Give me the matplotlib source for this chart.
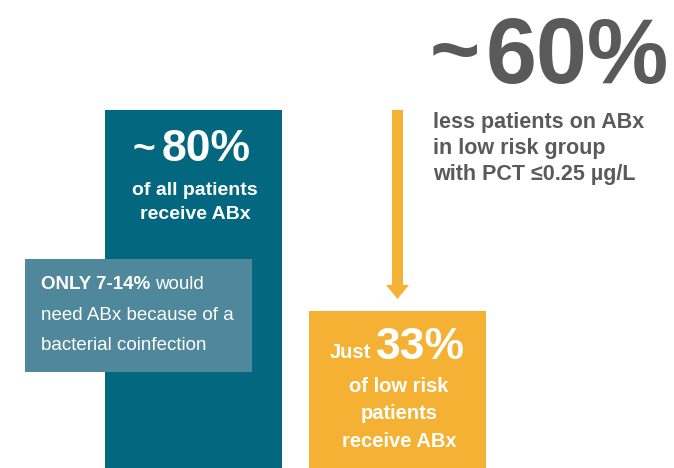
import matplotlib.pyplot as plt
from matplotlib.patches import Rectangle

# values shown in the infographic
groups = ["all patients", "low risk patients"]
abx_share = [80, 33]            # % of patients receiving ABx
coinfection = "7-14%"           # share that really needs ABx
reduction = 60                  # % less patients on ABx with PCT

teal = "#03677f"
orange = "#f5b133"
pale = "#4f879b"
grey = "#5a5a5a"
font = "Liberation Sans"

fig = plt.figure(figsize=(6.74, 4.68), dpi=100)

# bars, y axis in percent
ax = fig.add_axes([0, 0, 1, 1])
ylo = -3.7
ax.set_xlim(0, 674)
ax.set_ylim(ylo, 105.7)
heights = [v - ylo for v in abx_share]
ax.bar([193.5, 397.5], heights, width=177, bottom=ylo, color=[teal, orange])
# arrow from the 80% level down to just above the 33% bar
ax.arrow(397.5, abx_share[0], 0, -(abx_share[0] - abx_share[1] - 2.8),
         width=11, head_width=23, head_length=3.3, length_includes_head=True,
         color=orange, lw=0)
ax.axis("off")

# overlay in pixel coords for the text pieces
ov = fig.add_axes([0, 0, 1, 1])
ov.set_xlim(0, 674)
ov.set_ylim(468, 0)
ov.patch.set_alpha(0)
ov.axis("off")

ov.add_patch(Rectangle((25, 259), 227, 113, color=pale, lw=0))

# teal bar text
ov.text(144, 160, "~", color="white", fontsize=28, fontweight="bold",
        family=font, ha="center", va="baseline")
ov.text(251, 161, "%d%%" % abx_share[0], color="white", fontsize=32,
        fontweight="bold", family=font, ha="right", va="baseline")
ov.text(195, 195, "of all patients", color="white", fontsize=14,
        fontweight="bold", family=font, ha="center", va="baseline")
ov.text(195, 219, "receive ABx", color="white", fontsize=14,
        fontweight="bold", family=font, ha="center", va="baseline")

# pale box text
ov.text(41, 289, "ONLY %s" % coinfection, color="white", fontsize=13.5,
        fontweight="bold", family=font, ha="left", va="baseline")
ov.text(155, 289, "would", color="white", fontsize=13.5, family=font,
        ha="left", va="baseline")
ov.text(41, 320, "need ABx because of a", color="white", fontsize=13.5,
        family=font, ha="left", va="baseline")
ov.text(41, 350, "bacterial coinfection", color="white", fontsize=13.5,
        family=font, ha="left", va="baseline")

# orange bar text
ov.text(330, 358, "Just", color="white", fontsize=14.5, fontweight="bold",
        family=font, ha="left", va="baseline")
ov.text(465, 359, "%d%%" % abx_share[1], color="white", fontsize=32,
        fontweight="bold", family=font, ha="right", va="baseline")
ov.text(399, 392, "of low risk", color="white", fontsize=14.5,
        fontweight="bold", family=font, ha="center", va="baseline")
ov.text(399, 419, "patients", color="white", fontsize=14.5,
        fontweight="bold", family=font, ha="center", va="baseline")
ov.text(399, 447, "receive ABx", color="white", fontsize=14.5,
        fontweight="bold", family=font, ha="center", va="baseline")

# headline
ov.text(455, 79, "~", color=grey, fontsize=62, fontweight="bold",
        family=font, ha="center", va="baseline")
ov.text(669, 83, "%d%%" % reduction, color=grey, fontsize=66,
        fontweight="bold", family=font, ha="right", va="baseline")
ov.text(433, 128, "less patients on ABx", color=grey, fontsize=15.5,
        fontweight="bold", family=font, ha="left", va="baseline")
ov.text(433, 154, "in low risk group", color=grey, fontsize=15.5,
        fontweight="bold", family=font, ha="left", va="baseline")
ov.text(433, 180, "with PCT \u22640.25 \u00b5g/L", color=grey, fontsize=15.5,
        fontweight="bold", family=font, ha="left", va="baseline")

plt.savefig("out.png", dpi=100)
